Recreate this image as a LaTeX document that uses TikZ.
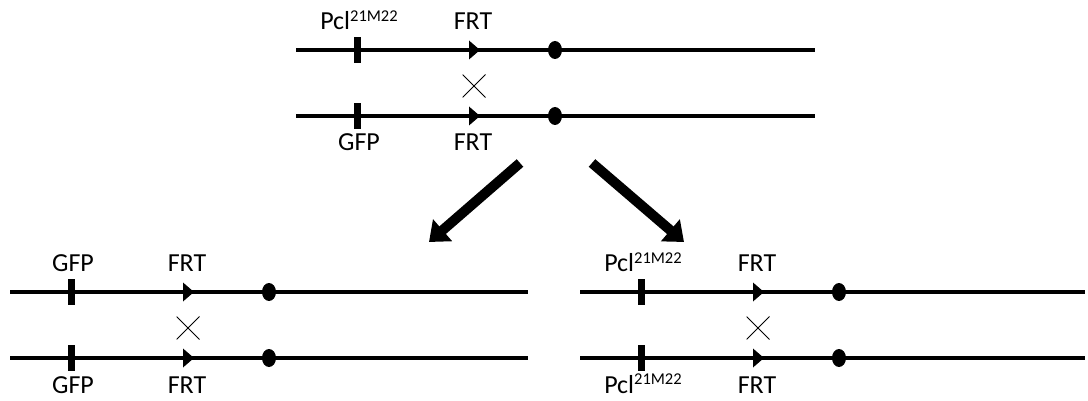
\documentclass[tikz,border=0pt]{standalone}
\usepackage{fontspec}
\setmainfont{Carlito}
\usetikzlibrary{arrows.meta,shapes.geometric}

% superscripted allele name
\newcommand\allele{Pcl\raisebox{8.5pt}{\fontsize{16.5}{18}\selectfont 21M22}}

% one pair of homologous chromosome arms
% #1 prefix, #2 x of marker, #3 y of upper line, #4 upper label, #5 lower label, #6 length right of marker
\newcommand\chrompair[6]{%
  \coordinate (#1s1) at (#2-61,#3);
  \coordinate (#1e1) at (#2+#6,#3);
  \coordinate (#1s2) at (#2-61,#3+66);
  \coordinate (#1e2) at (#2+#6,#3+66);
  \draw[chrom] (#1s1) -- (#1e1);
  \draw[chrom] (#1s2) -- (#1e2);
  % markers
  \coordinate (#1m1) at (#2,#3);
  \coordinate (#1m2) at (#2,#3+66);
  \fill[marker] ([shift={(-3.5,-13)}]#1m1) rectangle ([shift={(3.5,13)}]#1m1);
  \fill[marker] ([shift={(-3.5,-13)}]#1m2) rectangle ([shift={(3.5,13)}]#1m2);
  % FRT sites
  \coordinate (#1f1) at (#2+123,#3);
  \coordinate (#1f2) at (#2+123,#3+66);
  \fill[marker] (#1f1) -- ++(-11,-9.5) -- ++(0,19) -- cycle;
  \fill[marker] (#1f2) -- ++(-11,-9.5) -- ++(0,19) -- cycle;
  % centromeres
  \node[centro] (#1c1) at (#2+198,#3) {};
  \node[centro] (#1c2) at (#2+198,#3+66) {};
  % recombination cross
  \node[xmark] (#1x) at (#2+117,#3+36) {};
  % labels
  \node[lab] (#1l1) at (#2+2,#3-20) {#4};
  \node[lab] (#1l2) at (#2+2,#3+101) {#5};
  \node[lab] (#1r1) at (#2+116,#3-20) {FRT};
  \node[lab] (#1r2) at (#2+116,#3+101) {FRT};
}

\tikzset{
  chrom/.style={line width=3.5pt},
  marker/.style={black},
  centro/.style={fill=black, ellipse, minimum width=14pt, minimum height=18pt, inner sep=0pt},
  xmark/.style={draw=none, minimum size=23pt, inner sep=0pt,
    path picture={\draw[line width=1pt] (path picture bounding box.south west) -- (path picture bounding box.north east)
      (path picture bounding box.north west) -- (path picture bounding box.south east);}},
  lab/.style={font=\fontsize{26}{30}\selectfont, anchor=base, inner sep=0pt},
  bigarrow/.style={line width=10pt, -{Triangle[length=18pt, width=28pt]}}
}

\begin{document}
\begin{tikzpicture}[x=1pt, y=-1pt]
  \useasboundingbox (0,0) rectangle (1088,401);

  \chrompair{t}{357}{50}{\allele}{GFP}{458}
  \chrompair{a}{71}{292}{GFP}{GFP}{457}
  \chrompair{b}{641}{292}{\allele}{\allele}{444}

  % segregation arrows
  \coordinate (la) at (520,163);
  \coordinate (lb) at (429,242);
  \coordinate (ra) at (592,163);
  \coordinate (rb) at (684,242);
  \draw[bigarrow] (la) -- (lb);
  \draw[bigarrow] (ra) -- (rb);
\end{tikzpicture}
\end{document}
